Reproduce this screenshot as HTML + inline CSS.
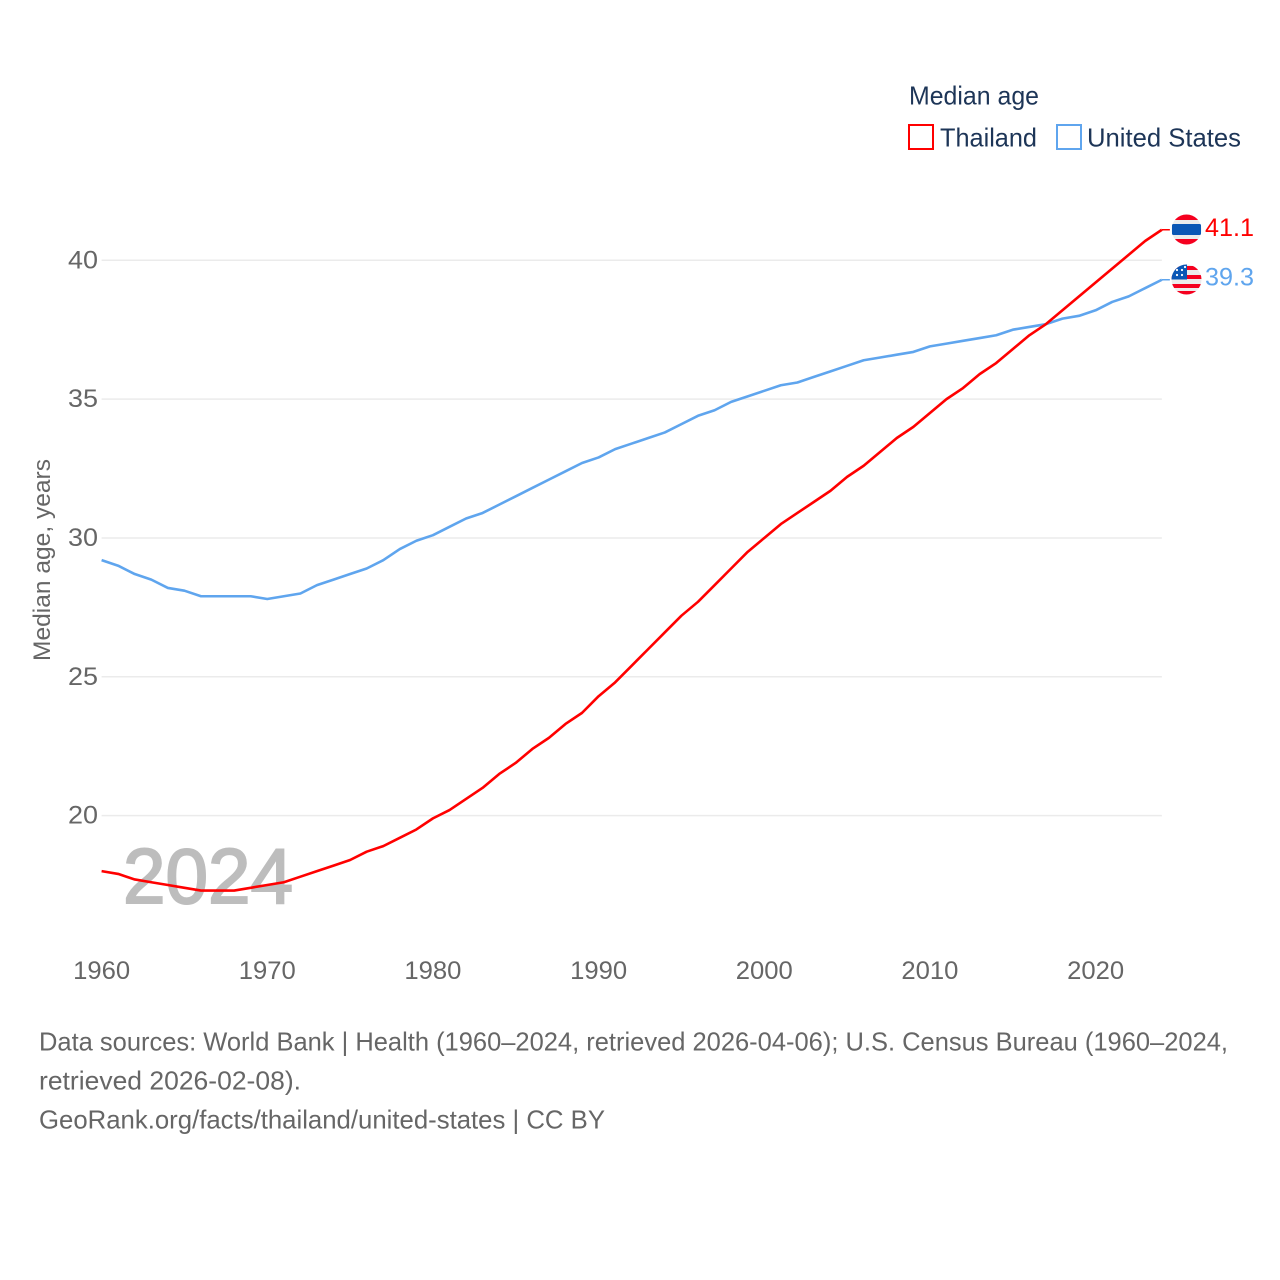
<!DOCTYPE html>
<html lang="en">
<head>
<meta charset="utf-8">
<title>Median age: Thailand and United States</title>
<style>
html,body{margin:0;padding:0;background:#fff;width:1280px;height:1280px;overflow:hidden}
svg{display:block;font-family:"Liberation Sans",sans-serif}
</style>
</head>
<body>
<svg id="chart" width="1280" height="1280" viewBox="0 0 1280 1280" xmlns="http://www.w3.org/2000/svg">
  <defs>
    <clipPath id="flag-clip-th"><circle cx="1186.5" cy="229.5" r="15"/></clipPath>
    <clipPath id="flag-clip-us"><circle cx="1186.5" cy="279.5" r="15"/></clipPath>
  </defs>
  <g id="grid"></g>
  <g id="yticks"></g>
  <g id="xticks"></g>
  <text transform="translate(50,661) rotate(-90)" font-size="24" fill="#666" textLength="202" lengthAdjust="spacingAndGlyphs">Median age, years</text>
  <text x="123" y="903" font-size="78" fill="#bdbdbd" stroke="#bdbdbd" stroke-width="2" textLength="170" lengthAdjust="spacingAndGlyphs">2024</text>
  <g id="lines"></g>

  <g>
    <g clip-path="url(#flag-clip-th)">
      <rect x="1171" y="214" width="31" height="31" fill="#ececec"/>
      <rect x="1171" y="214" width="31" height="6" fill="#f5001f"/>
      <rect x="1171" y="239" width="31" height="6" fill="#f5001f"/>
    </g>
    <rect x="1172" y="224" width="29" height="11" rx="1.5" fill="#0b57b5"/>
  </g>
  <g>
    <g clip-path="url(#flag-clip-us)">
      <rect x="1171" y="264" width="31" height="31" fill="#ececec"/>
      <rect x="1171" y="266" width="31" height="4" fill="#f5001f"/>
      <rect x="1171" y="275" width="31" height="4" fill="#f5001f"/>
      <rect x="1171" y="284" width="31" height="4" fill="#f5001f"/>
      <rect x="1171" y="291" width="31" height="4" fill="#f5001f"/>
      <rect x="1171" y="264" width="16" height="15.5" fill="#0b57b5"/>
      <circle cx="1177" cy="270" r="1.1" fill="#fff"/>
      <circle cx="1182" cy="270" r="1.1" fill="#fff"/>
      <circle cx="1177" cy="275" r="1.1" fill="#fff"/>
      <circle cx="1182" cy="275" r="1.1" fill="#fff"/>
      <circle cx="1185" cy="267" r="1.1" fill="#fff"/>
    </g>
  </g>

  <text x="1205" y="236" font-size="25" fill="#ff0000" textLength="49" lengthAdjust="spacingAndGlyphs">41.1</text>
  <text x="1205" y="285.5" font-size="25" fill="#5fa5ee" textLength="49" lengthAdjust="spacingAndGlyphs">39.3</text>

  <g fill="#1d3557">
    <text x="909" y="104.5" font-size="26" textLength="130" lengthAdjust="spacingAndGlyphs">Median age</text>
    <g>
      <rect x="909" y="125" width="24" height="24" fill="none" stroke="#ff0000" stroke-width="2"/>
      <text x="940" y="146.5" font-size="26" textLength="97" lengthAdjust="spacingAndGlyphs">Thailand</text>
    </g>
    <g>
      <rect x="1057" y="125" width="24" height="24" fill="none" stroke="#5fa5ee" stroke-width="2"/>
      <text x="1087" y="146.5" font-size="26" textLength="154" lengthAdjust="spacingAndGlyphs">United States</text>
    </g>
  </g>

  <g fill="#666" font-size="26">
    <text x="39" y="1050.5" textLength="1189" lengthAdjust="spacingAndGlyphs">Data sources: World Bank | Health (1960–2024, retrieved 2026-04-06); U.S. Census Bureau (1960–2024,</text>
    <text x="39" y="1089.5" textLength="262" lengthAdjust="spacingAndGlyphs">retrieved 2026-02-08).</text>
    <text x="39" y="1128.5" textLength="566" lengthAdjust="spacingAndGlyphs">GeoRank.org/facts/thailand/united-states | CC BY</text>
  </g>
</svg>
<script>
const years = [1960,1961,1962,1963,1964,1965,1966,1967,1968,1969,1970,1971,1972,1973,1974,1975,1976,1977,1978,1979,1980,1981,1982,1983,1984,1985,1986,1987,1988,1989,1990,1991,1992,1993,1994,1995,1996,1997,1998,1999,2000,2001,2002,2003,2004,2005,2006,2007,2008,2009,2010,2011,2012,2013,2014,2015,2016,2017,2018,2019,2020,2021,2022,2023,2024];
const thailandValues = [18.0,17.9,17.7,17.6,17.5,17.4,17.3,17.3,17.3,17.4,17.5,17.6,17.8,18.0,18.2,18.4,18.7,18.9,19.2,19.5,19.9,20.2,20.6,21.0,21.5,21.9,22.4,22.8,23.3,23.7,24.3,24.8,25.4,26.0,26.6,27.2,27.7,28.3,28.9,29.5,30.0,30.5,30.9,31.3,31.7,32.2,32.6,33.1,33.6,34.0,34.5,35.0,35.4,35.9,36.3,36.8,37.3,37.7,38.2,38.7,39.2,39.7,40.2,40.7,41.1];
const unitedStatesValues = [29.2,29.0,28.7,28.5,28.2,28.1,27.9,27.9,27.9,27.9,27.8,27.9,28.0,28.3,28.5,28.7,28.9,29.2,29.6,29.9,30.1,30.4,30.7,30.9,31.2,31.5,31.8,32.1,32.4,32.7,32.9,33.2,33.4,33.6,33.8,34.1,34.4,34.6,34.9,35.1,35.3,35.5,35.6,35.8,36.0,36.2,36.4,36.5,36.6,36.7,36.9,37.0,37.1,37.2,37.3,37.5,37.6,37.7,37.9,38.0,38.2,38.5,38.7,39.0,39.3];
const yTickLabels = [20,25,30,35,40];
const xTickLabels = [1960,1970,1980,1990,2000,2010,2020];

const NS = 'http://www.w3.org/2000/svg';
function xScale(year) { return 101.6 + (year - 1960) * (1095.6 - 101.6) / 60; }
function yScale(age) { return 815.6 - (age - 20) * (815.6 - 260.3) / 20; }
function make(tag, parent, attrs, text) {
  const el = document.createElementNS(NS, tag);
  for (const k in attrs) el.setAttribute(k, attrs[k]);
  if (text !== undefined) el.textContent = text;
  parent.appendChild(el);
  return el;
}
const gridGroup = document.getElementById('grid');
const yGroup = document.getElementById('yticks');
const xGroup = document.getElementById('xticks');
const lineGroup = document.getElementById('lines');

yTickLabels.forEach(function (v) {
  const g = make('line', gridGroup, {x1: xScale(1960), x2: xScale(2024), y1: yScale(v), y2: yScale(v), stroke: '#ebebeb', 'stroke-width': 1.5});
  
  
  const t = make('text', yGroup, {x: 98, y: yScale(v) + 8, 'text-anchor': 'end', 'font-size': 25, fill: '#666', textLength: 30, lengthAdjust: 'spacingAndGlyphs'}, String(v));
  
  
});
xTickLabels.forEach(function (v) {
  const t = make('text', xGroup, {x: xScale(v) - 28.5, y: 979, 'font-size': 25, fill: '#666', textLength: 57, lengthAdjust: 'spacingAndGlyphs'}, String(v));
  
  
});
function linePath(values) {
  return values.map(function (v, i) {
    return (i ? 'L' : 'M') + xScale(years[i]).toFixed(2) + ' ' + yScale(v).toFixed(2);
  }).join(' ');
}
function endConnector(values) {
  const last = values[values.length - 1];
  return 'M' + xScale(years[years.length - 1]).toFixed(2) + ' ' + yScale(last).toFixed(2) + ' h8';
}
const usLine = make('path', lineGroup, {d: linePath(unitedStatesValues), fill: 'none', stroke: '#5fa5ee', 'stroke-width': 2.6, 'stroke-linejoin': 'round'});


const thLine = make('path', lineGroup, {d: linePath(thailandValues), fill: 'none', stroke: '#ff0000', 'stroke-width': 2.6, 'stroke-linejoin': 'round'});


const usConn = make('path', lineGroup, {d: endConnector(unitedStatesValues), fill: 'none', stroke: '#5fa5ee', 'stroke-width': 1.5});


const thConn = make('path', lineGroup, {d: endConnector(thailandValues), fill: 'none', stroke: '#ff0000', 'stroke-width': 1.5});


</script>
</body>
</html>
